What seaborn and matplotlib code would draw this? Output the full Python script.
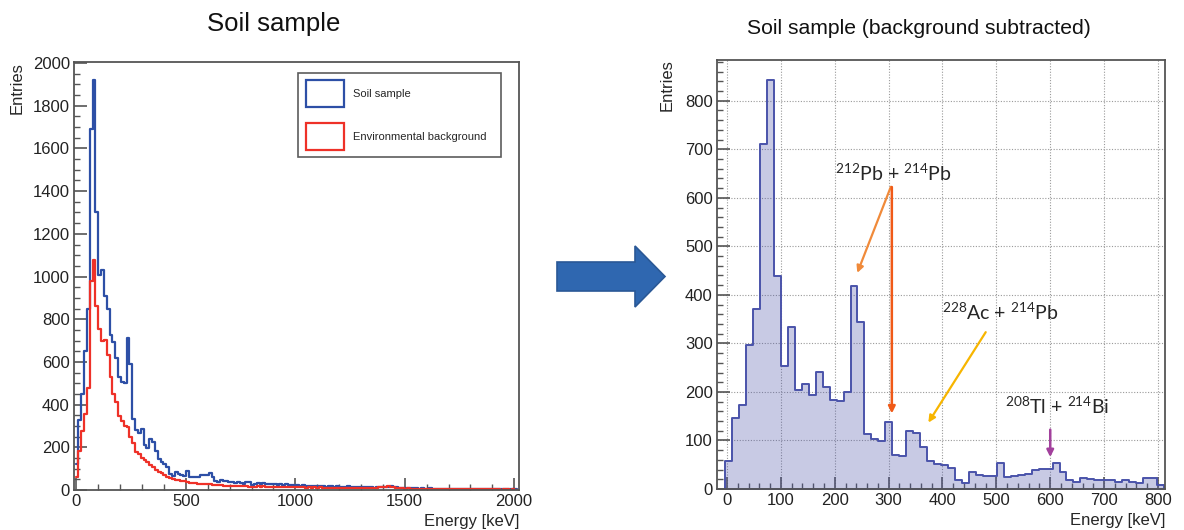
import seaborn as sns
import matplotlib.pyplot as plt
import numpy as np
import pandas as pd
from matplotlib.patches import Patch, Polygon
from matplotlib.ticker import MultipleLocator

# 데이터: 12.93 keV 폭의 빈, 첫 빈은 -3.4 keV 에서 시작
bin_start = -3.4
bin_width = 12.93

soil_counts = [
    120, 330, 450, 650, 850, 1690, 1922, 1300, 1005, 1030,
    910, 850, 725, 692, 620, 530, 505, 500, 712, 592,
    333, 282, 268, 288, 211, 199, 237, 223, 183, 143,
    130, 120, 106, 76, 65, 82, 74, 69, 67, 90,
    60, 60, 61, 61, 68, 70, 69, 79, 59, 43,
    38, 45, 41, 40, 39, 37, 34, 36, 32, 29,
    39, 39, 24,
    30, 33, 28, 31, 27, 29, 26, 30, 25, 27,
    24, 26, 22, 25, 21, 23, 20, 22, 19, 21,
    18, 20, 17, 19, 18, 16, 19, 17, 15, 17,
    16, 14, 15, 17, 13, 15, 14, 12, 14, 13,
    12, 14, 11, 13, 12, 15, 13, 16, 17, 15,
    14, 11, 10, 9, 10, 8, 9, 8, 7, 8,
    7, 6, 8, 6, 7, 5, 6, 7, 5, 6,
    5, 6, 4, 5, 6, 4, 5, 4, 5, 4,
    4, 5, 3, 4, 4, 3, 4, 3, 4, 3, 3, 4, 3,
]

background_counts = [
    60, 185, 275, 355, 480, 980, 1078, 862, 752, 696,
    705, 634, 531, 450, 410, 347, 324, 301, 293, 247,
    220, 180, 170, 150, 140, 130, 118, 108, 96, 86,
    78, 70, 63, 58, 53, 48, 45, 42, 40, 37,
    35, 33, 32, 30, 29, 28, 27, 26, 25, 24,
    23, 22, 21, 21, 20, 19, 19, 18, 18, 17,
    17, 16, 16,
    16, 18, 15, 17, 15, 16, 14, 16, 14, 15,
    14, 15, 13, 14, 12, 13, 12, 13, 11, 12,
    11, 12, 10, 12, 11, 10, 11, 10, 9, 10,
    10, 9, 10, 11, 9, 10, 9, 8, 10, 9,
    9, 10, 9, 11, 12, 14, 15, 17, 16, 13,
    11, 9, 8, 7, 8, 6, 7, 6, 6, 7,
    6, 5, 6, 5, 5, 4, 5, 5, 4, 5,
    4, 5, 4, 4, 5, 3, 4, 3, 4, 3,
    3, 4, 3, 3, 4, 3, 3, 2, 3, 3, 2, 3, 2,
]

subtracted_counts = [
    57, 146, 174, 297, 371, 711, 843, 438, 253, 334,
    205, 216, 194, 242, 210, 183, 181, 199, 419, 345,
    113, 102, 98, 138, 71, 69, 119, 115, 87, 57,
    52, 50, 43, 18, 12, 34, 29, 27, 27, 53,
    25, 27, 29, 31, 39, 42, 42, 53, 34, 19,
    15, 23, 20, 19, 19, 18, 15, 18, 14, 12,
    22, 23, 8,
]

series_labels = ['Soil sample', 'Environmental background']
peak_labels = [r'$\mathregular{^{212}}$Pb + $\mathregular{^{214}}$Pb',
               r'$\mathregular{^{228}}$Ac + $\mathregular{^{214}}$Pb',
               r'$\mathregular{^{208}}$Tl + $\mathregular{^{214}}$Bi']

# 빈 경계 / 중심
edges_full = bin_start + bin_width * np.arange(len(soil_counts) + 1)
centers_full = edges_full[:-1] + bin_width / 2
edges_sub = bin_start + bin_width * np.arange(len(subtracted_counts) + 1)
centers_sub = edges_sub[:-1] + bin_width / 2

df = pd.DataFrame({'energy': centers_full, 'soil': soil_counts, 'bg': background_counts})
df_sub = pd.DataFrame({'energy': centers_sub, 'entries': subtracted_counts})

sns.set_style('ticks')
plt.rcParams['font.family'] = ['Liberation Sans', 'DejaVu Sans']
plt.rcParams['mathtext.fontset'] = 'custom'

BLUE = '#2d4fa6'
RED = '#ee3128'
FRAME = '#555555'

fig = plt.figure(figsize=(11.84, 5.3), dpi=100)
W, H = 1184, 530
ax1 = fig.add_axes([74 / W, 1 - 490 / H, 445 / W, 428 / H])
ax2 = fig.add_axes([717 / W, 1 - 489 / H, 448 / W, 429.5 / H])

# 왼쪽: 원본 스펙트럼
sns.histplot(data=df, x='energy', weights='soil', bins=edges_full.tolist(), element='step',
             fill=False, color=BLUE, linewidth=1.6, ax=ax1)
sns.histplot(data=df, x='energy', weights='bg', bins=edges_full.tolist(), element='step',
             fill=False, color=RED, linewidth=1.6, ax=ax1)
ax1.set_xlim(-11, 2022)
ax1.set_ylim(0, 2005)
ax1.xaxis.set_major_locator(MultipleLocator(500))
ax1.xaxis.set_minor_locator(MultipleLocator(100))
ax1.yaxis.set_major_locator(MultipleLocator(200))
ax1.yaxis.set_minor_locator(MultipleLocator(50))

handles = [Patch(facecolor='white', edgecolor=BLUE, linewidth=1.6),
           Patch(facecolor='white', edgecolor=RED, linewidth=1.6)]
leg = ax1.legend(handles, series_labels, loc='upper left',
                 bbox_to_anchor=(0.492, 0.734, 0.481, 0.254), mode='expand',
                 fontsize=8, handlelength=3.4, handleheight=3.3, labelspacing=1.45,
                 borderpad=0.7, handletextpad=0.8, fancybox=False, frameon=True)
leg.get_frame().set_edgecolor('#333333')
leg.get_frame().set_linewidth(1.2)

# 오른쪽: 배경 제거 스펙트럼
sns.histplot(data=df_sub, x='energy', weights='entries', bins=edges_sub.tolist(),
             element='step', fill=True, color='#4b52a8', alpha=0.3,
             edgecolor='#4a53aa', linewidth=1.4, ax=ax2)
ax2.set_xlim(-18.5, 813)
ax2.set_ylim(0, 885)
ax2.xaxis.set_major_locator(MultipleLocator(100))
ax2.xaxis.set_minor_locator(MultipleLocator(20))
ax2.yaxis.set_major_locator(MultipleLocator(100))
ax2.yaxis.set_minor_locator(MultipleLocator(20))
ax2.grid(True, which='major', linestyle=(0, (1, 1.5)), color='#9a9a9a', linewidth=0.8)
ax2.set_axisbelow(True)

for ax in (ax1, ax2):
    for s in ax.spines.values():
        s.set_color(FRAME)
        s.set_linewidth(1.3)
    ax.tick_params(which='both', direction='in', top=False, right=False,
                   color=FRAME, labelsize=12, labelcolor='#222222', pad=3)
    ax.tick_params(which='major', length=9, width=1.2)
    ax.tick_params(which='minor', length=4.5, width=1.0)
    ax.set_ylabel('Entries', loc='top', fontsize=12)
    ax.set_xlabel('Energy [keV]', loc='right', fontsize=12)
    ax.xaxis.set_label_coords(1.0, -0.055)
ax1.yaxis.set_label_coords(-0.11, 1.0)
ax2.yaxis.set_label_coords(-0.094, 1.0)

# 피크 주석
ann_font = ['Lato', 'DejaVu Sans']
ax2.text(308, 650, peak_labels[0], fontsize=14, ha='center', va='center', family=ann_font)
ax2.text(507, 365, peak_labels[1], fontsize=14, ha='center', va='center', family=ann_font)
ax2.text(613, 170, peak_labels[2], fontsize=14, ha='center', va='center', family=ann_font)
ax2.annotate('', xy=(240, 440), xytext=(306, 628),
             arrowprops=dict(arrowstyle='-|>', color='#f08a3a', lw=1.6, mutation_scale=10))
ax2.annotate('', xy=(306, 150), xytext=(306, 628),
             arrowprops=dict(arrowstyle='-|>', color='#f05a18', lw=1.8, mutation_scale=10))
ax2.annotate('', xy=(371, 132), xytext=(483, 328),
             arrowprops=dict(arrowstyle='-|>', color='#f7b500', lw=1.6, mutation_scale=10))
ax2.annotate('', xy=(600, 60), xytext=(600, 128),
             arrowprops=dict(arrowstyle='-|>', color='#a2409c', lw=1.8, mutation_scale=10))

# 제목
fig.text(274 / W, 1 - 24 / H, 'Soil sample', fontsize=18.5, ha='center', va='center', color='#111111')
fig.text(919 / W, 1 - 28 / H, 'Soil sample (background subtracted)', fontsize=15.2,
         ha='center', va='center', color='#111111')

# 가운데 큰 화살표
arrow_px = [(557, 262), (635, 262), (635, 246), (665, 276.5), (635, 307), (635, 291), (557, 291)]
fig.add_artist(Polygon([(x / W, 1 - y / H) for x, y in arrow_px], closed=True,
                       transform=fig.transFigure, facecolor='#2f67b0', edgecolor='#2a5896', lw=1.2))

plt.savefig('out.png', dpi=100)
